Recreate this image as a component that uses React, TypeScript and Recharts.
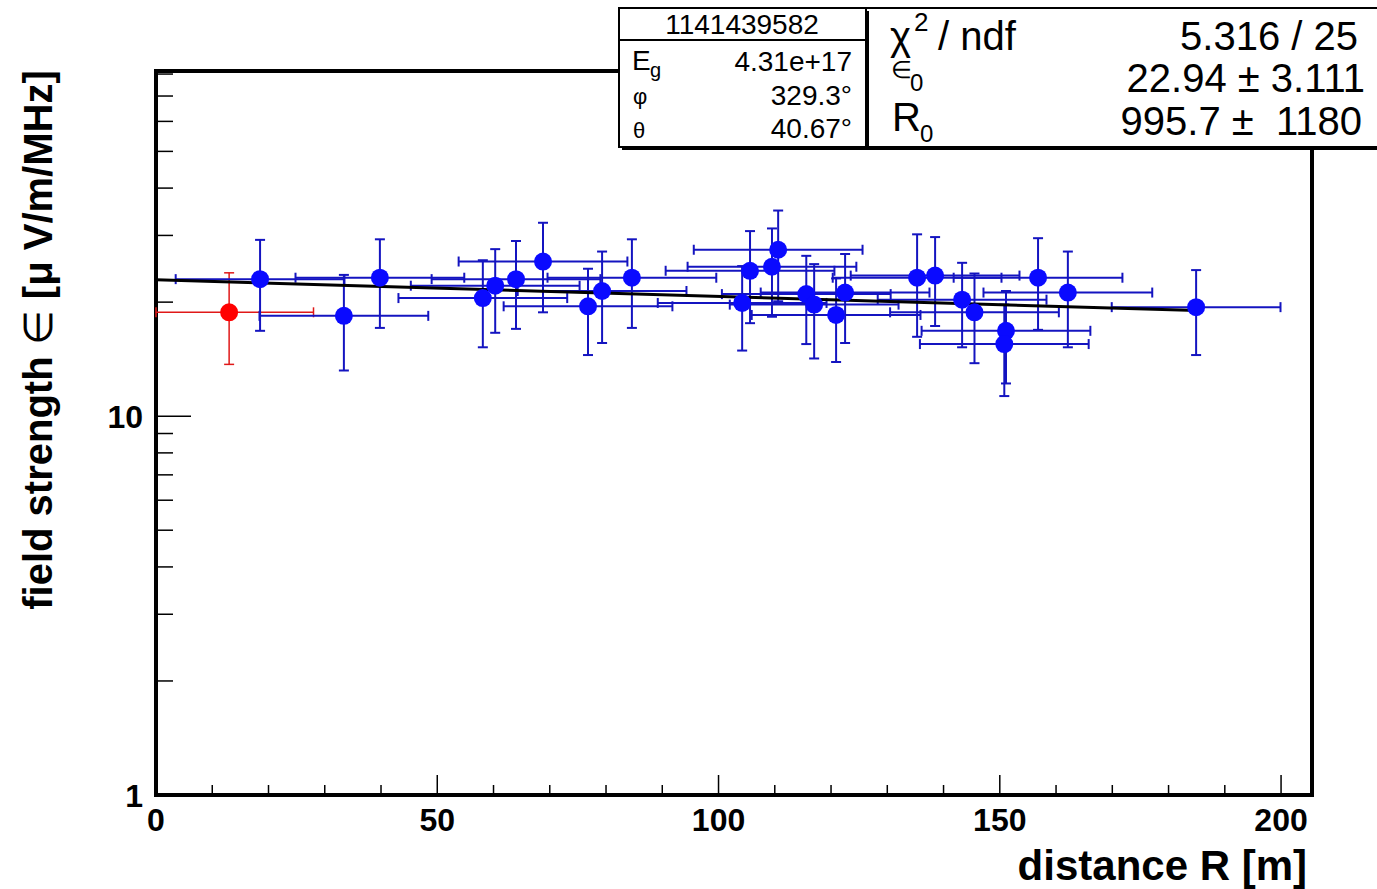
import React from 'react';
import { ScatterChart, Scatter, XAxis, YAxis, ErrorBar, ReferenceArea } from 'recharts';

// distance R [m] of each antenna station
const blueR = [18.5, 33.4, 39.8, 58.1, 60.3, 64.0, 68.8, 76.8, 79.3, 84.6, 104.2, 105.6, 109.5, 110.6, 115.6, 117.0, 120.9, 122.5, 135.3, 138.5, 143.3, 145.5, 151.1, 150.8, 156.8, 162.1, 184.9];
// field strength [uV/m/MHz]
const blueE = [23.0, 18.4, 23.2, 20.5, 22.1, 23.0, 25.6, 19.5, 21.4, 23.2, 19.9, 24.2, 24.8, 27.5, 21.0, 19.7, 18.5, 21.2, 23.2, 23.5, 20.3, 18.8, 16.8, 15.5, 23.2, 21.2, 19.4];
const blueErr = [6.2, 5.2, 6.1, 5.3, 5.5, 6.0, 6.8, 5.0, 5.8, 6.1, 5.0, 6.6, 6.5, 7.4, 5.5, 5.5, 4.6, 5.6, 7.0, 6.2, 5.1, 5.0, 4.6, 4.2, 6.3, 6.0, 4.9];
const rErr = 15;

// station left out of the fit
const redR = [13.0];
const redE = [18.8];
const redErr = [5.1];

// fit curve end points
const fitR = [0, 185];
const fitE = [22.9, 19.0];

const xTicks = [0, 10, 20, 30, 40, 50, 60, 70, 80, 90, 100, 110, 120, 130, 140, 150, 160, 170, 180, 190, 200];
const xLabels = [0, 50, 100, 150, 200];
const yTicks = [1, 2, 3, 4, 5, 6, 7, 8, 9, 10, 20, 30, 40, 50, 60, 70, 80];
const yLabels = [1, 10];

const xMin = 0;
const xMax = 205.5;

// error bars are cut at the frame, as in the original plot
const withErr = (xs: number[], es: number[], errs: number[]) =>
  xs.map((x, i) => ({ x, y: es[i], ex: [Math.min(rErr, x - xMin), Math.min(rErr, xMax - x)], ey: errs[i] }));

const blue = withErr(blueR, blueE, blueErr);
const red = withErr(redR, redE, redErr);
const fit = fitR.map((x, i) => ({ x, y: fitE[i] }));

const font = '"Liberation Sans", Arial, sans-serif';

const XTick = (props: any) => {
  const { x, y, payload } = props;
  const major = xLabels.includes(payload.value);
  return (
    <g>
      <line x1={x} x2={x} y1={y} y2={y - (major ? 20 : 10)} stroke="#000" strokeWidth={1.5} />
      {major && (
        <text x={x} y={y + 36} textAnchor="middle" fontFamily={font} fontWeight="bold" fontSize={32} fill="#000">
          {payload.value}
        </text>
      )}
    </g>
  );
};

const YTick = (props: any) => {
  const { x, y, payload } = props;
  const major = yLabels.includes(payload.value);
  return (
    <g>
      <line x1={x} x2={x + (major ? 35 : 17)} y1={y} y2={y} stroke="#000" strokeWidth={1.5} />
      {major && (
        <text x={x - 13} y={y + 12} textAnchor="end" fontFamily={font} fontWeight="bold" fontSize={32} fill="#000">
          {payload.value}
        </text>
      )}
    </g>
  );
};

const Dot = (color: string) => (props: any) => <circle cx={props.cx} cy={props.cy} r={9} fill={color} />;

const App = () => {
  return (
    <div style={{ position: 'absolute', left: 0, top: 0, width: 1377, height: 889, background: '#fff', overflow: 'hidden' }}>
      <ScatterChart width={1377} height={889} margin={{ top: 71, right: 65, bottom: 54, left: 96 }}>
        <XAxis
          type="number"
          dataKey="x"
          domain={[xMin, xMax]}
          allowDataOverflow
          ticks={xTicks}
          interval={0}
          height={40}
          tickSize={0}
          tickMargin={0}
          axisLine={false}
          tick={<XTick />}
        />
        <YAxis
          type="number"
          dataKey="y"
          scale="log"
          domain={[1, 81.5]}
          allowDataOverflow
          ticks={yTicks}
          interval={0}
          width={60}
          tickSize={0}
          tickMargin={0}
          axisLine={false}
          tick={<YTick />}
        />
        <Scatter data={fit} line={{ stroke: '#000', strokeWidth: 3 }} lineType="joint" shape={() => <g />} isAnimationActive={false} />
        <Scatter data={red} shape={Dot('#ff0000')} isAnimationActive={false}>
          <ErrorBar dataKey="ex" direction="x" width={5} stroke="#e01818" strokeWidth={1.5} />
          <ErrorBar dataKey="ey" direction="y" width={5} stroke="#e01818" strokeWidth={1.5} />
        </Scatter>
        <Scatter data={blue} shape={Dot('#0a0aff')} isAnimationActive={false}>
          <ErrorBar dataKey="ex" direction="x" width={5} stroke="#1414c0" strokeWidth={2} />
          <ErrorBar dataKey="ey" direction="y" width={5} stroke="#1414c0" strokeWidth={2} />
        </Scatter>
        <ReferenceArea x1={xMin} x2={xMax} y1={1} y2={81.5} fill="none" stroke="#000" strokeWidth={4} ifOverflow="visible" />
      </ScatterChart>

      <svg width={1377} height={889} style={{ position: 'absolute', left: 0, top: 0, pointerEvents: 'none' }} fontFamily={font}>
        <text x={1307} y={880} textAnchor="end" fontWeight="bold" fontSize={42}>distance R [m]</text>
        <text transform="translate(52,340) rotate(-90)" textAnchor="middle" fontWeight="bold" fontSize={40}>
          field strength <tspan fontWeight="normal">∈</tspan> [μ V/m/MHz]
        </text>

        {/* fit parameters box */}
        <rect x={869} y={11} width={520} height={139} fill="#000" />
        <rect x={866} y={8} width={520} height={139} fill="#fff" stroke="#000" strokeWidth={2} />
        <text x={890} y={50} fontSize={40}>χ</text>
        <text x={914} y={31} fontSize={26}>2</text>
        <text x={938} y={50} fontSize={40}>/ ndf</text>
        <text x={1358} y={50} textAnchor="end" fontSize={40}>5.316 / 25</text>
        <text x={891} y={78} fontSize={24}>∈</text>
        <text x={910} y={91} fontSize={24}>0</text>
        <text x={1365} y={92} textAnchor="end" fontSize={40}>22.94 ± 3.111</text>
        <text x={892} y={131} fontSize={40}>R</text>
        <text x={920} y={142} fontSize={24}>0</text>
        <text x={1362} y={135} textAnchor="end" fontSize={40}>{'995.7 ±\u00A0\u00A01180'}</text>

        {/* event box */}
        <rect x={622} y={11} width={247} height={139} fill="#000" />
        <rect x={619} y={8} width={247} height={139} fill="#fff" stroke="#000" strokeWidth={2} />
        <line x1={619} x2={866} y1={40} y2={40} stroke="#000" strokeWidth={2} />
        <text x={742} y={34} textAnchor="middle" fontSize={28}>1141439582</text>
        <text x={632} y={70} fontSize={28}>E</text>
        <text x={650} y={77} fontSize={20}>g</text>
        <text x={852} y={71} textAnchor="end" fontSize={28}>4.31e+17</text>
        <text x={633} y={104} fontSize={22}>φ</text>
        <text x={852} y={105} textAnchor="end" fontSize={28}>329.3°</text>
        <text x={633} y={138} fontSize={22}>θ</text>
        <text x={852} y={138} textAnchor="end" fontSize={28}>40.67°</text>
      </svg>
    </div>
  );
};

export default App;
